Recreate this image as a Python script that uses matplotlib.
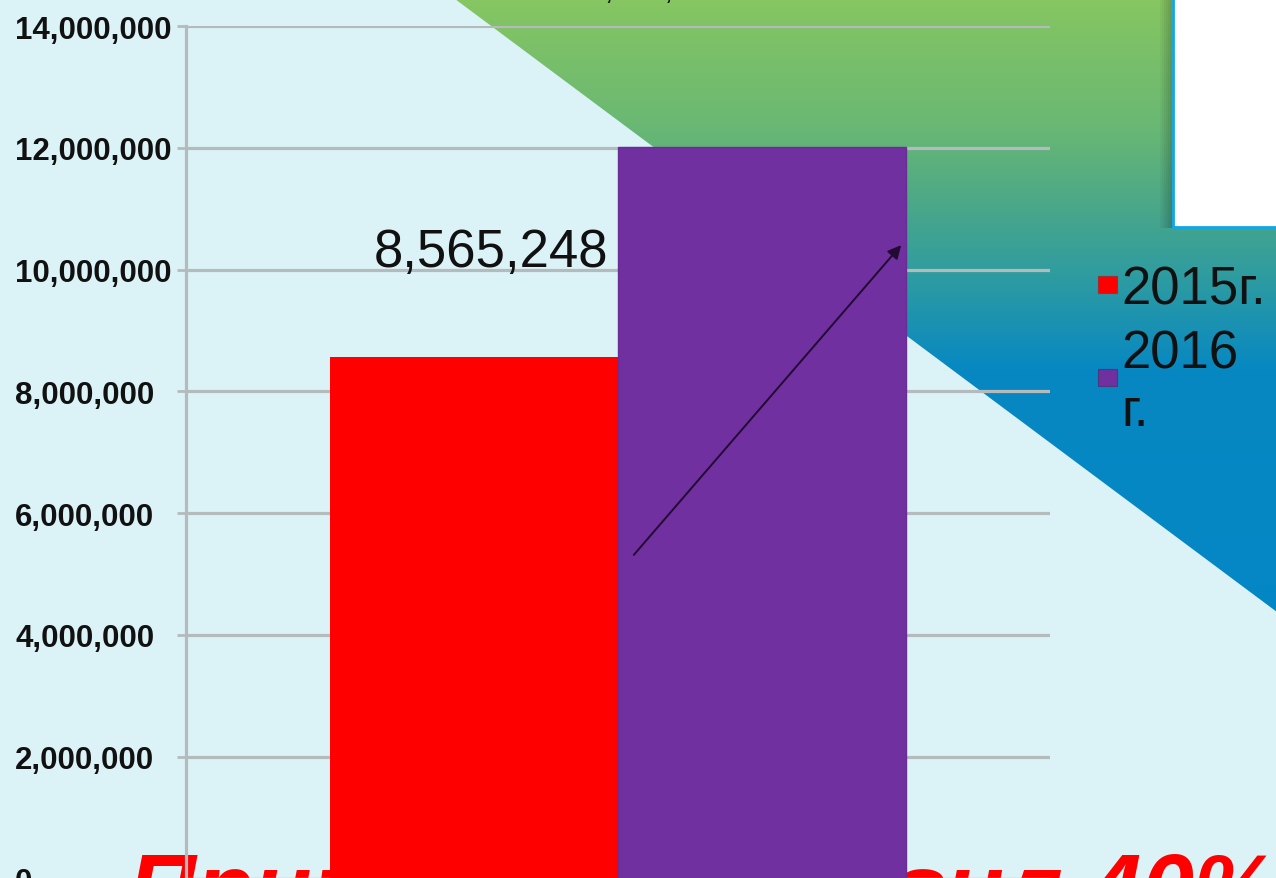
import numpy as np
import matplotlib
matplotlib.use("Agg")
import matplotlib.pyplot as plt
from matplotlib.patches import Polygon, Rectangle
from matplotlib.colors import LinearSegmentedColormap
from matplotlib.ticker import FuncFormatter

plt.rcParams['font.family'] = ['Liberation Sans', 'DejaVu Sans']

# data
categories = [""]
series_names = ["2015г.", "2016\nг."]
values_2015 = [8565248]
values_2016 = [12013000]
series_colors = ["#FF0000", "#7030A0"]
y_ticks = [0, 2000000, 4000000, 6000000, 8000000, 10000000, 12000000, 14000000]

W, H = 1276, 879
fig = plt.figure(figsize=(W / 100, H / 100), dpi=100)
bg_col = "#DBF3F7"
fig.patch.set_facecolor(bg_col)

# slide background, pixel coords
bg = fig.add_axes([0, 0, 1, 1])
bg.set_xlim(0, W)
bg.set_ylim(H, 0)
bg.axis("off")
bg.set_facecolor(bg_col)

grad = LinearSegmentedColormap.from_list(
    "slide", [(0.0, "#86C662"), (0.14, "#6AB873"), (0.23, "#4CA887"),
              (0.32, "#2C9BA2"), (0.42, "#0788C2"), (1.0, "#0086C8")])
g = np.linspace(0, 1, H).reshape(-1, 1)
im = bg.imshow(g, cmap=grad, aspect="auto", extent=(0, W, H, 0), zorder=1)
tri = Polygon([(455, 0), (W + 5, 0), (W + 5, 612 + 5 * 0.745)], closed=True,
              transform=bg.transData, facecolor="none", edgecolor="none")
bg.add_patch(tri)
im.set_clip_path(tri)

# picture frame in the corner
for i in range(6):
    bg.add_patch(Rectangle((1160 + 2 * i, 0), 2, 229, facecolor="black",
                           alpha=0.03 + 0.035 * i, lw=0, zorder=2))
bg.add_patch(Rectangle((1173, -5), 120, 233, facecolor="white", edgecolor="#12A6E6", lw=2, zorder=3))

# big red caption, sits behind the chart
bg.text(128, 920, "Прирост составил 40%", color="#FF0000", fontsize=68,
        fontweight="bold", fontstyle="italic", ha="left", va="baseline", zorder=4)

# top label cut off by the crop
bg.text(648, -1, f"{values_2016[0]:,}", fontsize=22, ha="center", va="baseline",
        color="#111111", zorder=4)

# chart
ax = fig.add_axes([186 / W, -0.6 / H, 864 / W, 852.6 / H])
ax.set_facecolor("none")
x = np.arange(len(categories))
width = 1 / 3
ax.bar(x - width / 2, values_2015, width, color=series_colors[0], zorder=3)
ax.bar(x + width / 2, values_2016, width, color=series_colors[1],
       edgecolor="#6A2C95", lw=1, zorder=3)

ax.set_xlim(-0.5, 0.5)
ax.set_ylim(0, 14000000)
ax.set_yticks(y_ticks)
ax.yaxis.set_major_formatter(FuncFormatter(lambda v, p: f"{int(v):,}"))
ax.set_xticks([])
ax.yaxis.grid(True, color="#B3BBBD", lw=2.3)
ax.set_axisbelow(True)
ax.tick_params(axis="y", length=6.5, width=2, color="#B3BBBD", pad=116.5,
               labelsize=22.5, labelcolor="#111111")
for lab in ax.get_yticklabels():
    lab.set_fontweight("bold")
    lab.set_horizontalalignment("left")
for s in ["top", "right"]:
    ax.spines[s].set_visible(False)
ax.spines["left"].set_color("#B3BBBD")
ax.spines["left"].set_linewidth(2.3)
ax.spines["bottom"].set_color("#B3BBBD")
ax.spines["bottom"].set_linewidth(2.3)

ax.annotate(f"{values_2015[0]:,}", xy=(x[0] - width / 2, values_2015[0]),
            xytext=(12.5, 75.5), textcoords="offset points", fontsize=38,
            ha="center", va="center", color="#111111", zorder=5)

# growth arrow over the 2016 bar
ax.annotate("", xy=(903, 244), xycoords=bg.transData, xytext=(632, 558),
            textcoords=bg.transData,
            arrowprops=dict(arrowstyle="-|>", color="#220A33", lw=1.4,
                            mutation_scale=20), zorder=6)

# legend
bg.add_patch(Rectangle((1098, 277), 19, 17, facecolor=series_colors[0],
                       edgecolor="#A03030", lw=0.8, zorder=5))
bg.text(1121, 305, series_names[0], fontsize=38, ha="left", va="baseline",
        color="#111111", zorder=5)
bg.add_patch(Rectangle((1098, 370), 19, 17, facecolor=series_colors[1],
                       edgecolor="#4A3A7A", lw=0.8, zorder=5))
bg.text(1121, 383, series_names[1], fontsize=38, ha="left", va="center",
        linespacing=1.2, color="#111111", zorder=5)

fig.savefig("out.png", dpi=100, facecolor=fig.get_facecolor())
